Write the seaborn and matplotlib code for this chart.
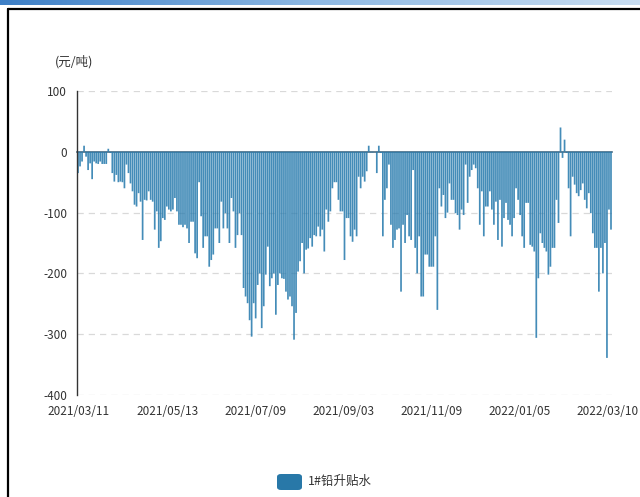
import numpy as np
import pandas as pd
import matplotlib
matplotlib.use("Agg")
import matplotlib.pyplot as plt
import seaborn as sns
from matplotlib.lines import Line2D
from matplotlib.patches import FancyBboxPatch

# 1#铅升贴水 (元/吨), daily
spread_spring = [-35, -24, -16, 10, -8, -30, -19, -45, -16, -19, -20, -16, -20, -20, -20, 5, -2,
                 -35, -49, -38, -50, -49, -50, -60, -21, -35, -52, -65, -87, -90, -68, -82, -145,
                 -79, -80, -65, -79, -82, -128, -98, -158, -147, -109, -112]
spread_may = [-90, -95, -98, -95, -76, -98, -120, -120, -124, -120, -126, -150, -115, -115,
              -167, -175, -50, -106, -158, -139, -139, -189, -178, -169, -126, -126, -150, -82,
              -126, -101, -126, -150, -76, -98, -158, -137, -101, -137, -224, -238, -249, -277]
spread_summer = [-304, -249, -274, -219, -200, -290, -254, -202, -156, -221, -208, -200, -268,
                 -219, -200, -208, -209, -230, -243, -238, -254, -309, -265, -197, -180, -150,
                 -200, -161, -159, -142, -156, -137, -139, -123, -139, -128, -164, -95, -115,
                 -98, -60, -50, -50, -79, -98]
spread_autumn = [-98, -178, -109, -109, -139, -148, -128, -139, -41, -60, -41, -49, -32, 10, -1,
                 -1, 0, -35, 10, -2, -139, -79, -60, -21, -120, -158, -145, -128, -126, -230,
                 -120, -150, -104, -139, -145, -30, -158, -200, -139, -238, -238, -169, -169, -189]
spread_winter = [-189, -189, -139, -260, -60, -90, -71, -109, -100, -52, -79, -79, -101, -104,
                 -128, -95, -104, -21, -84, -41, -30, -21, -27, -60, -120, -65, -139, -90, -90,
                 -65, -95, -120, -82, -145, -79, -156, -109, -84, -112, -120, -139, -109, -60, -79]
spread_2022 = [-104, -139, -158, -84, -84, -153, -156, -164, -306, -208, -134, -150, -158, -164,
               -202, -189, -158, -158, -79, -117, 40, -10, 20, -2, -60, -139, -41, -54, -68, -73,
               -63, -52, -79, -93, -68, -101, -134, -158, -158, -230, -158, -200, -150, -339,
               -95, -128]

tick_labels = ["2021/03/11", "2021/05/13", "2021/07/09", "2021/09/03",
               "2021/11/09", "2022/01/05", "2022/03/10"]
series_name = "1#铅升贴水"
unit_label = "(元/吨)"

values = spread_spring + spread_may + spread_summer + spread_autumn + spread_winter + spread_2022
df = pd.DataFrame({"idx": np.arange(len(values)), "value": values})
n = len(df)

sns.set_style("white")
plt.rcParams["font.family"] = ["Noto Sans CJK SC", "DejaVu Sans"]
plt.rcParams["axes.unicode_minus"] = False

fig = plt.figure(figsize=(6.4, 4.97), dpi=100)
W, H = 640, 497
ax = fig.add_axes([77 / W, 1 - 395 / H, (612 - 77) / W, (395 - 91) / H])

bar_color = "#2a7cae"
sns.barplot(data=df, x="idx", y="value", color=bar_color, saturation=1, width=0.85,
            alpha=0.88, linewidth=0, ax=ax)
# avoid pixel snapping so the thin bars render evenly
for p in ax.patches:
    p.set_snap(False)
    p.set_antialiased(True)

ax.set_ylim(-400, 100)
ax.set_xlim(-0.5, n - 0.5)
ax.set_yticks([100, 0, -100, -200, -300, -400])
ax.set_yticklabels(["100", "0", "-100", "-200", "-300", "-400"])
ax.set_xlabel("")
ax.set_ylabel("")

for yv in [100, -100, -200, -300, -400]:
    ax.axhline(yv, color="#d9d9d9", lw=0.9, ls=(0, (5, 4)), zorder=0)

for s in ["top", "right"]:
    ax.spines[s].set_visible(False)
ax.spines["left"].set_color("#333333")
ax.spines["left"].set_linewidth(1)
ax.spines["bottom"].set_position(("data", 0))
ax.spines["bottom"].set_color("#4a6b80")
ax.spines["bottom"].set_linewidth(1.2)
ax.spines["bottom"].set_zorder(0.5)

step = n * 88 / 534
tick_pos = np.arange(len(tick_labels)) * step + 0.5
ax.set_xticks(tick_pos)
ax.tick_params(axis="x", length=3, width=1, color="#333333", direction="out", labelbottom=False)
ax.tick_params(axis="y", length=4, width=1, color="#333333", labelsize=8.5, labelcolor="#333333", pad=3)

for pos, lab in zip(tick_pos, tick_labels):
    ax.text(pos, -0.055, lab, transform=ax.get_xaxis_transform(), ha="center", va="center",
            fontsize=8.5, color="#333333", clip_on=False)

fig.text(55 / W, 1 - 62 / H, unit_label, fontsize=9, color="#333333", va="center", ha="left")

# legend
fig.patches.append(FancyBboxPatch((277 / W, 1 - 490 / H), 25 / W, 16 / H,
                                  boxstyle="round,pad=0,rounding_size=0.006",
                                  transform=fig.transFigure, facecolor="#2878a8",
                                  edgecolor="none"))
fig.text(308 / W, 1 - 481 / H, series_name, fontsize=9, color="#333333", va="center", ha="left")

# frame: blue gradient bar on top and black border
grad_ax = fig.add_axes([0, 1 - 5 / H, 1, 5 / H])
grad = np.linspace(0, 1, 256).reshape(1, -1)
cmap = matplotlib.colors.LinearSegmentedColormap.from_list("g", ["#3d7fc6", "#8fb9e3", "#c8dcf0"])
grad_ax.imshow(grad, aspect="auto", cmap=cmap)
grad_ax.axis("off")
fig.add_artist(Line2D([8 / W, 8 / W], [0, 1 - 9 / H], color="black", lw=1.6, transform=fig.transFigure))
fig.add_artist(Line2D([8 / W, 1], [1 - 9 / H, 1 - 9 / H], color="black", lw=1.6, transform=fig.transFigure))

fig.savefig("out.png", dpi=100)
